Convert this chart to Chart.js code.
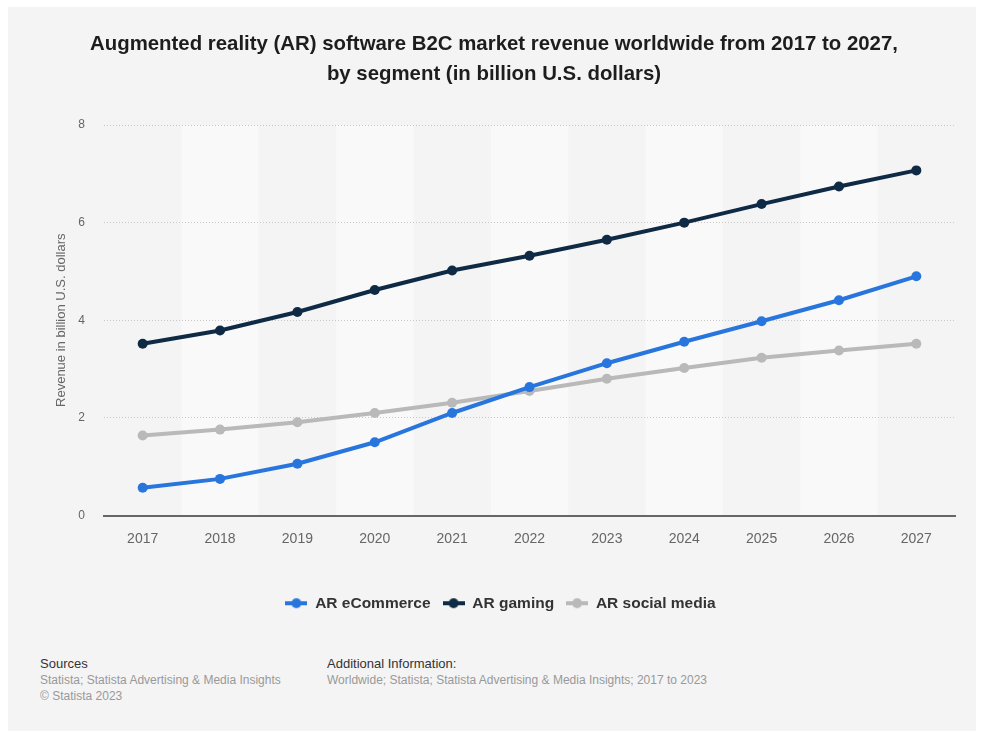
<!DOCTYPE html>
<html>
<head>
<meta charset="utf-8">
<script src="https://cdn.jsdelivr.net/npm/chart.js@4.4.0/dist/chart.umd.min.js"></script>
<style>
    body { margin: 0; background: #fff; font-family: "Liberation Sans", Arial, sans-serif; }
    #panel { position: absolute; left: 8px; top: 7px; width: 968px; height: 724px; background: #f4f4f4; }
    #title { position: absolute; left: 2px; top: 20.5px; width: 968px; text-align: center; font-weight: bold; font-size: 20.4px; line-height: 30px; color: #1d1d1d; }
    #chartBox { position: absolute; left: 0; top: 0; width: 968px; height: 625px; }
    .foot { position: absolute; top: 649px; font-size: 13px; line-height: 15.5px; color: #333; }
    .foot .g { color: #999; font-size: 12px; }
</style>
</head>
<body>
<div id="panel">
    <div id="chartBox"><canvas id="revenueChart"></canvas></div>
    <div id="title">Augmented reality (AR) software B2C market revenue worldwide from 2017 to 2027,<br>by segment (in billion U.S. dollars)</div>
    <div class="foot" style="left:32px">Sources<br><span class="g">Statista; Statista Advertising &amp; Media Insights<br>© Statista 2023</span></div>
    <div class="foot" style="left:319px">Additional Information:<br><span class="g">Worldwide; Statista; Statista Advertising &amp; Media Insights; 2017 to 2023</span></div>
</div>
<script>
const years = ["2017", "2018", "2019", "2020", "2021", "2022", "2023", "2024", "2025", "2026", "2027"];

const eCommerce = [0.57, 0.75, 1.06, 1.50, 2.10, 2.63, 3.12, 3.56, 3.98, 4.41, 4.90];
const gaming = [3.52, 3.79, 4.17, 4.62, 5.02, 5.32, 5.65, 6.00, 6.38, 6.74, 7.07];
const socialMedia = [1.64, 1.76, 1.91, 2.10, 2.31, 2.55, 2.80, 3.02, 3.23, 3.38, 3.52];

const yTicks = [0, 2, 4, 6, 8];

const colEcommerce = '#2876dd';
const colGaming = '#0f2a44';
const colSocial = '#b9b9b9';

// little line+dot icons for the legend
function legendIcon(color) {
    const c = document.createElement('canvas');
    c.width = 22;
    c.height = 12;
    const ctx = c.getContext('2d');
    ctx.strokeStyle = color;
    ctx.lineWidth = 4;
    ctx.beginPath();
    ctx.moveTo(0, 6);
    ctx.lineTo(22, 6);
    ctx.stroke();
    ctx.fillStyle = color;
    ctx.beginPath();
    ctx.arc(11, 6, 5, 0, Math.PI * 2);
    ctx.fill();
    return c;
}

// alternating column shading behind everything
const bandPlugin = {
    id: 'bands',
    beforeDraw(chart) {
        const {ctx, chartArea, scales} = chart;
        const x = scales.x;
        const step = x.getPixelForValue(1) - x.getPixelForValue(0);
        ctx.save();
        ctx.fillStyle = '#f9f9f9';
        for (let i = 1; i < years.length; i += 2) {
            const cx = x.getPixelForValue(i);
            ctx.fillRect(cx - step / 2, chartArea.top, step, chartArea.bottom - chartArea.top);
        }
        ctx.restore();
    }
};

// legend in the original sits a bit right of the canvas centre
const legendShift = {
    id: 'legendShift',
    afterLayout(chart) {
        chart.legend.left += 19;
        chart.legend.right += 19;
    }
};

const makeSet = (label, data, color) => {
    return {
        label: label,
        data: data,
        borderColor: color,
        backgroundColor: color,
        borderWidth: 4,
        pointRadius: 5,
        pointHoverRadius: 5,
        pointBackgroundColor: color,
        pointBorderWidth: 0,
        tension: 0,
        icon: legendIcon(color)
    }
}

const chart = new Chart(document.getElementById('revenueChart'), {
    type: 'line',
    data: {
        labels: years,
        datasets: [
            makeSet('AR eCommerce', eCommerce, colEcommerce),
            makeSet('AR gaming', gaming, colGaming),
            makeSet('AR social media', socialMedia, colSocial),
        ]
    },
    plugins: [bandPlugin, legendShift],
    options: {
        responsive: true,
        maintainAspectRatio: false,
        animation: false,
        layout: {
            padding: { top: 118, right: 21, left: 0, bottom: 11 }
        },
        plugins: {
            legend: {
                position: 'bottom',
                labels: {
                    usePointStyle: true,
                    pointStyleWidth: 22,
                    padding: 12,
                    color: '#333',
                    font: { family: 'Liberation Sans', size: 15.5, weight: 'bold' },
                    generateLabels(c) {
                        return c.data.datasets.map((ds, i) => ({
                            text: ds.label,
                            pointStyle: ds.icon,
                            fillStyle: ds.borderColor,
                            strokeStyle: ds.borderColor,
                            lineWidth: 0,
                            fontColor: '#333',
                            datasetIndex: i,
                            hidden: false
                        }));
                    }
                }
            },
            tooltip: { enabled: false }
        },
        scales: {
            x: {
                offset: true,
                afterFit(scale) { scale.height = 68; },
                grid: { display: false, drawTicks: false },
                border: { display: true, color: '#666', width: 2 },
                ticks: {
                    padding: 15,
                    color: '#666',
                    font: { family: 'Liberation Sans', size: 14 }
                }
            },
            y: {
                min: 0,
                max: 8,
                afterFit(scale) { scale.width = 96; },
                afterBuildTicks(scale) { scale.ticks = yTicks.map(v => ({ value: v })); },
                grid: {
                    color: (ctx) => ctx.tick && ctx.tick.value === 0 ? 'rgba(0,0,0,0)' : '#c8c8c8',
                    lineWidth: 1,
                    drawTicks: false
                },
                border: { display: false, dash: [1, 2] },
                ticks: {
                    padding: 19,
                    color: '#666',
                    font: { family: 'Liberation Sans', size: 12 }
                },
                title: {
                    display: true,
                    text: 'Revenue in billion U.S. dollars',
                    color: '#666',
                    padding: { top: 46 },
                    font: { family: 'Liberation Sans', size: 13 }
                }
            }
        }
    }
});
</script>
</body>
</html>
